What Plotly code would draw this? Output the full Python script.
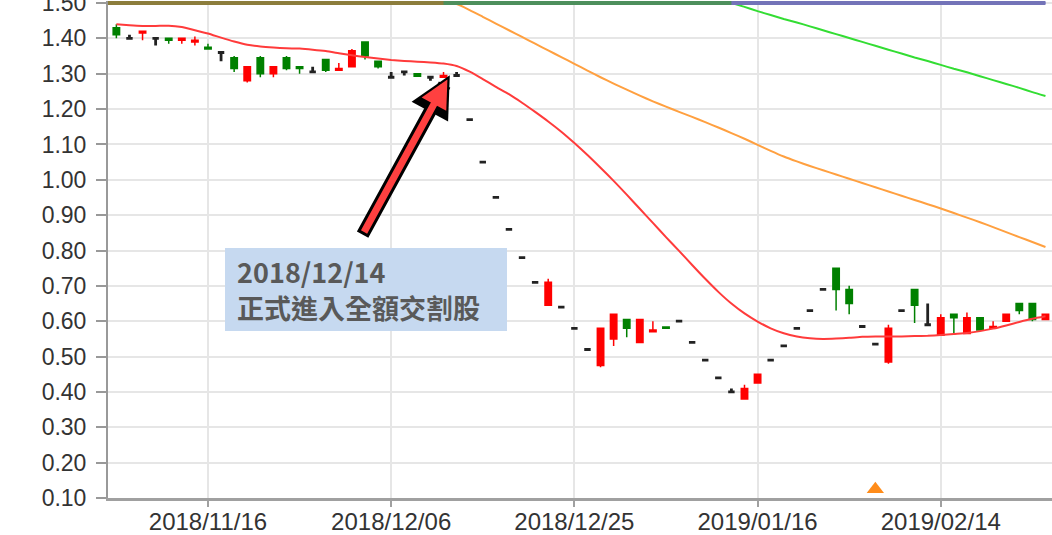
import plotly.graph_objects as go

# ---------------- data ----------------
dates = [
    "2018/11/06", "2018/11/07", "2018/11/08", "2018/11/09", "2018/11/12", "2018/11/13",
    "2018/11/14", "2018/11/15", "2018/11/16", "2018/11/19", "2018/11/20", "2018/11/21",
    "2018/11/22", "2018/11/23", "2018/11/26", "2018/11/27", "2018/11/28", "2018/11/29",
    "2018/11/30", "2018/12/03", "2018/12/04", "2018/12/05", "2018/12/06", "2018/12/07",
    "2018/12/10", "2018/12/11", "2018/12/12", "2018/12/13", "2018/12/14", "2018/12/17",
    "2018/12/18", "2018/12/19", "2018/12/20", "2018/12/21", "2018/12/22", "2018/12/24",
    "2018/12/25", "2018/12/26", "2018/12/27", "2018/12/28", "2019/01/02", "2019/01/03",
    "2019/01/04", "2019/01/07", "2019/01/08", "2019/01/09", "2019/01/10", "2019/01/11",
    "2019/01/14", "2019/01/15", "2019/01/16", "2019/01/17", "2019/01/18", "2019/01/21",
    "2019/01/22", "2019/01/23", "2019/01/24", "2019/01/25", "2019/01/28", "2019/01/29",
    "2019/01/30", "2019/02/11", "2019/02/12", "2019/02/13", "2019/02/14", "2019/02/15",
    "2019/02/18", "2019/02/19", "2019/02/20", "2019/02/21", "2019/02/22", "2019/02/25",
    "2019/02/26",
]
candle_dates = dates[1:]

open_ = [1.43, 1.40, 1.415, 1.40, 1.40, 1.395, 1.39, 1.375, 1.36, 1.345,
         1.28, 1.345, 1.30, 1.345, 1.32, 1.305, 1.34, 1.31, 1.32, 1.39,
         1.335, 1.29, 1.305, 1.30, 1.29, 1.29, 1.295, 1.17, 1.05, 0.95,
         0.86, 0.78, 0.71, 0.645, 0.64, 0.58, 0.52, 0.475, 0.55, 0.605,
         0.54, 0.57, 0.584, 0.60, 0.54, 0.49, 0.44, 0.40, 0.38, 0.425,
         0.49, 0.53, 0.58, 0.63, 0.69, 0.75, 0.69, 0.585, 0.535, 0.485,
         0.63, 0.69, 0.59, 0.56, 0.62, 0.565, 0.61, 0.58, 0.60, 0.65,
         0.65, 0.605]
high = [1.44, 1.41, 1.42, 1.40, 1.40, 1.40, 1.405, 1.385, 1.36, 1.35,
        1.32, 1.35, 1.32, 1.35, 1.32, 1.32, 1.34, 1.33, 1.37, 1.39,
        1.335, 1.305, 1.305, 1.30, 1.29, 1.305, 1.305, 1.17, 1.05, 0.95,
        0.86, 0.78, 0.71, 0.72, 0.64, 0.58, 0.52, 0.58, 0.62, 0.605,
        0.605, 0.60, 0.584, 0.60, 0.54, 0.49, 0.44, 0.41, 0.42, 0.45,
        0.49, 0.53, 0.58, 0.63, 0.69, 0.75, 0.70, 0.585, 0.535, 0.59,
        0.63, 0.69, 0.65, 0.62, 0.62, 0.625, 0.61, 0.60, 0.62, 0.65,
        0.65, 0.62]
low = [1.40, 1.40, 1.395, 1.38, 1.385, 1.385, 1.38, 1.37, 1.335, 1.305,
       1.275, 1.29, 1.29, 1.31, 1.30, 1.305, 1.305, 1.31, 1.32, 1.34,
       1.315, 1.29, 1.295, 1.293, 1.28, 1.29, 1.295, 1.17, 1.05, 0.95,
       0.86, 0.78, 0.71, 0.645, 0.64, 0.58, 0.52, 0.47, 0.53, 0.555,
       0.54, 0.57, 0.58, 0.60, 0.54, 0.49, 0.44, 0.40, 0.38, 0.425,
       0.49, 0.53, 0.58, 0.63, 0.69, 0.63, 0.62, 0.585, 0.535, 0.48,
       0.63, 0.595, 0.59, 0.56, 0.565, 0.565, 0.575, 0.58, 0.60, 0.62,
       0.60, 0.605]
close = [1.41, 1.40, 1.42, 1.40, 1.395, 1.40, 1.395, 1.37, 1.36, 1.315,
         1.32, 1.30, 1.32, 1.315, 1.315, 1.305, 1.31, 1.315, 1.365, 1.35,
         1.32, 1.29, 1.305, 1.293, 1.29, 1.295, 1.295, 1.17, 1.05, 0.95,
         0.86, 0.78, 0.71, 0.71, 0.64, 0.58, 0.52, 0.58, 0.62, 0.58,
         0.605, 0.575, 0.58, 0.60, 0.54, 0.49, 0.44, 0.40, 0.41, 0.45,
         0.49, 0.53, 0.58, 0.63, 0.69, 0.69, 0.65, 0.585, 0.535, 0.58,
         0.63, 0.645, 0.59, 0.61, 0.61, 0.61, 0.575, 0.585, 0.62, 0.63,
         0.605, 0.62]

ma_red = [None,
          1.44, 1.437, 1.435, 1.435, 1.436, 1.432, 1.423, 1.414, 1.402, 1.391,
          1.382, 1.377, 1.374, 1.372, 1.371, 1.368, 1.364, 1.358, 1.352, 1.347,
          1.343, 1.339, 1.336, 1.334, 1.332, 1.329, 1.322, 1.306, 1.285, 1.263,
          1.242, 1.218, 1.192, 1.165, 1.136, 1.104, 1.07, 1.034, 0.997, 0.958,
          0.918, 0.878, 0.838, 0.799, 0.759, 0.72, 0.683, 0.65, 0.622, 0.599,
          0.58, 0.566, 0.557, 0.552, 0.55, 0.551, 0.553, 0.556, 0.557, 0.557,
          0.557, 0.558, 0.559, 0.561, 0.564, 0.567, 0.572, 0.579, 0.588, 0.598,
          0.607, 0.614]
ma_orange = [1.50, 1.50, 1.50, 1.50, 1.50, 1.50, 1.50, 1.50, 1.50, 1.50,
             1.50, 1.50, 1.50, 1.50, 1.50, 1.50, 1.50, 1.50, 1.50, 1.50,
             1.50, 1.50, 1.50, 1.50, 1.50, 1.50, 1.50,
             1.497, 1.48, 1.461, 1.442, 1.423, 1.404, 1.385, 1.366, 1.347, 1.328,
             1.309, 1.29, 1.272, 1.255, 1.238, 1.222, 1.207, 1.192, 1.178, 1.163,
             1.148, 1.132, 1.116, 1.099, 1.082, 1.066, 1.052, 1.039, 1.027, 1.015,
             1.003, 0.991, 0.979, 0.967, 0.955, 0.943, 0.931, 0.919, 0.906, 0.893,
             0.88, 0.866, 0.852, 0.838, 0.824, 0.81]
ma_green = [1.50, 1.50, 1.50, 1.50, 1.50, 1.50, 1.50, 1.50, 1.50, 1.50,
            1.50, 1.50, 1.50, 1.50, 1.50, 1.50, 1.50, 1.50, 1.50, 1.50,
            1.50, 1.50, 1.50, 1.50, 1.50, 1.50, 1.50, 1.50, 1.50, 1.50,
            1.50, 1.50, 1.50, 1.50, 1.50, 1.50, 1.50, 1.50, 1.50, 1.50,
            1.50, 1.50, 1.50, 1.50, 1.50, 1.50, 1.50, 1.50, 1.50,
            1.489, 1.477, 1.466, 1.455, 1.445, 1.434, 1.423, 1.412, 1.401, 1.39,
            1.379, 1.368, 1.357, 1.346, 1.336, 1.325, 1.314, 1.304, 1.293, 1.282,
            1.271, 1.26, 1.248, 1.237]
ma_blue = [1.50, 1.50, 1.50, 1.50, 1.50, 1.50, 1.50, 1.50, 1.50, 1.50,
           1.50, 1.50, 1.50, 1.50, 1.50, 1.50, 1.50, 1.50, 1.50, 1.50,
           1.50, 1.50, 1.50, 1.50, 1.50, 1.50, 1.50, 1.50, 1.50, 1.50,
           1.50, 1.50, 1.50, 1.50, 1.50, 1.50, 1.50, 1.50, 1.50, 1.50,
           1.50, 1.50, 1.50, 1.50, 1.50, 1.50, 1.50, 1.50, 1.50, 1.50,
           1.50, 1.50, 1.50, 1.50, 1.50, 1.50, 1.50, 1.50, 1.50, 1.50,
           1.50, 1.50, 1.50, 1.50, 1.50, 1.50, 1.50, 1.50, 1.50, 1.50,
           1.50, 1.50, 1.50]

signal_dates = ["2019/01/29"]
signal_values = [0.125]

tick_labels = ["2018/11/16", "2018/12/06", "2018/12/25", "2019/01/16", "2019/02/14"]
y_ticks = [0.10, 0.20, 0.30, 0.40, 0.50, 0.60, 0.70, 0.80, 0.90, 1.00,
           1.10, 1.20, 1.30, 1.40, 1.50]

note_date_label = "2018/12/14"
note_text = "正式進入全額交割股"
arrow_target_date = "2018/12/12"
arrow_target_value = 1.296

Y_MAX = 1.50

# ---------------- figure ----------------
fig = go.Figure()

# moving-average lines (beneath candles)
for vals, col in [(ma_blue, "#6b6bd6"), (ma_green, "#33dd33"),
                  (ma_orange, "#ffa040"), (ma_red, "#ff3b3b")]:
    fig.add_trace(go.Scatter(x=dates, y=vals, mode="lines",
                             line=dict(color=col, width=2, shape="spline", smoothing=0.5),
                             hoverinfo="skip", showlegend=False))

# candles split by direction: red up, green down, black unchanged
groups = {"up": [], "down": [], "flat": []}
for i, d in enumerate(candle_dates):
    o, c = open_[i], close[i]
    key = "up" if c > o else ("down" if c < o else "flat")
    groups[key].append(i)

styles = {"up": ("#ff0000", 1.5), "down": ("#008000", 1.5), "flat": ("#222222", 2.8)}
for key, idx in groups.items():
    col, lw = styles[key]
    fig.add_trace(go.Candlestick(
        x=[candle_dates[i] for i in idx],
        open=[open_[i] for i in idx], high=[high[i] for i in idx],
        low=[low[i] for i in idx], close=[close[i] for i in idx],
        increasing=dict(line=dict(color=col, width=lw), fillcolor=col),
        decreasing=dict(line=dict(color=col, width=lw), fillcolor=col),
        whiskerwidth=0, hoverinfo="skip", showlegend=False))

# portions of the long averages pinned to the chart ceiling
for vals, col in [(ma_blue, "#7373b8"), (ma_green, "#4d8f5c"), (ma_orange, "#8c7d3c")]:
    ceil = [Y_MAX if (v is not None and v >= Y_MAX) else None for v in vals]
    fig.add_trace(go.Scatter(x=dates, y=ceil, mode="lines",
                             line=dict(color=col, width=4),
                             hoverinfo="skip", showlegend=False, connectgaps=False))

# signal marker
fig.add_trace(go.Scatter(x=signal_dates, y=signal_values, mode="markers",
                         marker=dict(symbol="triangle-up", size=15, color="#ff8c1a"),
                         hoverinfo="skip", showlegend=False, cliponaxis=False))

cat_index = {d: i for i, d in enumerate(dates)}
ax_x = cat_index[arrow_target_date] + 0.48

# outlined arrow: black underlay + red overlay
fig.add_annotation(x=ax_x, y=arrow_target_value, xref="x", yref="y",
                   ax=-88, ay=161, axref="pixel", ayref="pixel", text="",
                   showarrow=True, arrowhead=2, arrowsize=0.64, arrowwidth=13,
                   arrowcolor="#000000")
fig.add_annotation(x=ax_x, y=arrow_target_value, xref="x", yref="y",
                   ax=-88, ay=161, axref="pixel", ayref="pixel", text="",
                   showarrow=True, arrowhead=2, arrowsize=0.8, arrowwidth=7,
                   arrowcolor="#ff4040", standoff=5, startstandoff=3)

fig.add_annotation(
    xref="paper", yref="paper", x=0.1239, y=0.503, xanchor="left", yanchor="top",
    text="&nbsp;&nbsp;<b>" + note_date_label + "</b><br>&nbsp;&nbsp;<b>" + note_text + "</b>",
    showarrow=False, align="left", valign="middle", width=282, height=83,
    bgcolor="#c6d9f0", borderpad=0, borderwidth=0,
    font=dict(family="Noto Sans CJK TC", size=27, color="#595959"))

fig.update_layout(
    width=1052, height=535,
    margin=dict(l=108, r=0, t=1, b=37, autoexpand=False),
    paper_bgcolor="white", plot_bgcolor="white",
    showlegend=False,
    xaxis=dict(type="category", categoryorder="array", categoryarray=dates,
               range=[0.36, 72.5], rangeslider=dict(visible=False),
               tickmode="array", tickvals=tick_labels, ticktext=tick_labels,
               automargin=False,
               showgrid=True, gridcolor="#e6e6e6", gridwidth=1.5,
               showline=True, linecolor="#a0a0a0", linewidth=2.5,
               ticks="outside", ticklen=6, tickcolor="#a0a0a0", tickwidth=1.5,
               ticklabelstandoff=-6,
               tickfont=dict(family="Liberation Sans, Arial", size=24, color="#333333"),
               zeroline=False, fixedrange=True),
    yaxis=dict(range=[0.10, 1.5057], tickmode="array", tickvals=y_ticks,
               tickformat=".2f", automargin=False, ticklabeloverflow="allow",
               showgrid=True, gridcolor="#e6e6e6", gridwidth=2,
               showline=True, linecolor="#999999", linewidth=2,
               ticks="outside", ticklen=10, tickcolor="#999999", tickwidth=1.5,
               ticklabelstandoff=5,
               tickfont=dict(family="Liberation Sans, Arial", size=23, color="#333333"),
               zeroline=False, fixedrange=True),
)

fig.write_html("out.html",
               config={"displayModeBar": False},
               post_script="document.body.style.margin='0px';"
                           "document.body.style.overflow='hidden';")
